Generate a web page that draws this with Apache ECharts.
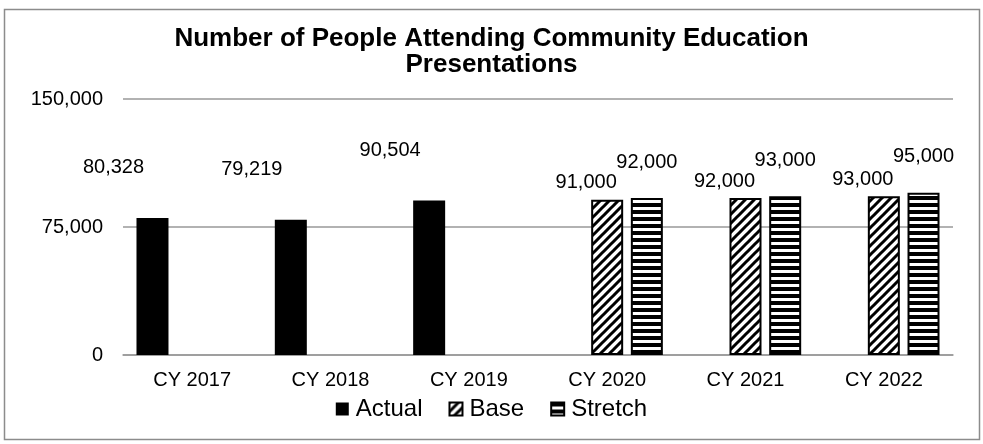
<!DOCTYPE html>
<html>
<head>
<meta charset="utf-8">
<script src="https://cdn.jsdelivr.net/npm/echarts@6/dist/echarts.min.js"></script>
<style>
html,body{margin:0;padding:0;background:#fff;}
#chart{width:983px;height:444px;}
</style>
</head>
<body>
<div id="chart"></div>
<script>
const categories = ['CY 2017', 'CY 2018', 'CY 2019', 'CY 2020', 'CY 2021', 'CY 2022'];
const actualValues = [80328, 79219, 90504, null, null, null];
const baseValues = [null, null, null, 91000, 92000, 93000];
const stretchValues = [null, null, null, 92000, 93000, 95000];
const yTicks = [0, 75000, 150000];

function makeDiag() {
  const c = document.createElement('canvas');
  c.width = 9; c.height = 9;
  const g = c.getContext('2d');
  g.fillStyle = '#fff'; g.fillRect(0, 0, 9, 9);
  g.strokeStyle = '#000'; g.lineWidth = 3;
  g.beginPath();
  g.moveTo(-2, 11); g.lineTo(11, -2);
  g.moveTo(-5, 5); g.lineTo(5, -5);
  g.moveTo(4, 14); g.lineTo(14, 4);
  g.stroke();
  return c;
}
function makeHoriz() {
  const c = document.createElement('canvas');
  c.width = 8; c.height = 7;
  const g = c.getContext('2d');
  g.fillStyle = '#fff'; g.fillRect(0, 0, 8, 7);
  g.fillStyle = '#000'; g.fillRect(0, 0, 8, 4);
  return c;
}
const diagPattern = { image: makeDiag(), repeat: 'repeat' };
const horizPattern = { image: makeHoriz(), repeat: 'repeat' };

const font = 'Liberation Sans, Arial, sans-serif';
const fmt = p => (p.value == null ? '' : Number(p.value).toLocaleString('en-US'));

const chart = echarts.init(document.getElementById('chart'));
chart.setOption({
  animation: false,
  backgroundColor: '#fff',
  textStyle: { fontFamily: font },
  title: {
    text: 'Number of People Attending Community Education\nPresentations',
    left: 'center',
    top: 21,
    textStyle: { fontSize: 26, fontWeight: 'bold', color: '#000', lineHeight: 26, fontFamily: font }
  },
  graphic: [{
    type: 'rect', silent: true,
    shape: { x: 4.5, y: 9.5, width: 975, height: 430 },
    style: { fill: 'none', stroke: '#8c8c8c', lineWidth: 1.5 }
  }],
  legend: {
    bottom: 18,
    left: 'center',
    itemWidth: 13, itemHeight: 13, itemGap: 26,
    icon: 'rect',
    textStyle: { fontSize: 24, color: '#000', fontFamily: font, padding: [0, 0, 0, 2] },
    data: ['Actual', 'Base', 'Stretch']
  },
  grid: { left: 123, right: 30, top: 99, bottom: 89 },
  xAxis: {
    type: 'category',
    data: categories,
    axisTick: { show: false },
    axisLine: { lineStyle: { color: '#999', width: 1.5 } },
    axisLabel: { fontSize: 20, color: '#000', margin: 15, fontFamily: font }
  },
  yAxis: {
    type: 'value',
    min: yTicks[0], max: yTicks[yTicks.length - 1], interval: yTicks[1] - yTicks[0],
    axisLine: { show: false }, axisTick: { show: false },
    splitLine: { lineStyle: { color: '#999', width: 1.5 } },
    axisLabel: { fontSize: 20, color: '#000', margin: 20, fontFamily: font,
      formatter: v => v.toLocaleString('en-US') }
  },
  series: [
    {
      name: 'Actual', type: 'bar', data: actualValues,
      barWidth: 32, barGap: '24%',
      itemStyle: { color: '#000', borderColor: '#000', borderWidth: 0 },
      label: { show: true, position: 'top', distance: 5, offset: [-39, -35],
        fontSize: 20, color: '#000', fontFamily: font, formatter: fmt }
    },
    {
      name: 'Base', type: 'bar', data: baseValues,
      barWidth: 32, barGap: '24%',
      itemStyle: { color: diagPattern, borderColor: '#000', borderWidth: 2 },
      label: { show: true, position: 'top', distance: 5, offset: [-21, -2],
        fontSize: 20, color: '#000', fontFamily: font, formatter: fmt }
    },
    {
      name: 'Stretch', type: 'bar', data: stretchValues,
      barWidth: 32, barGap: '24%',
      itemStyle: { color: horizPattern, borderColor: '#000', borderWidth: 2 },
      label: { show: true, position: 'top', distance: 5, offset: [0, -21],
        fontSize: 20, color: '#000', fontFamily: font, formatter: fmt }
    }
  ]
});
</script>
</body>
</html>
